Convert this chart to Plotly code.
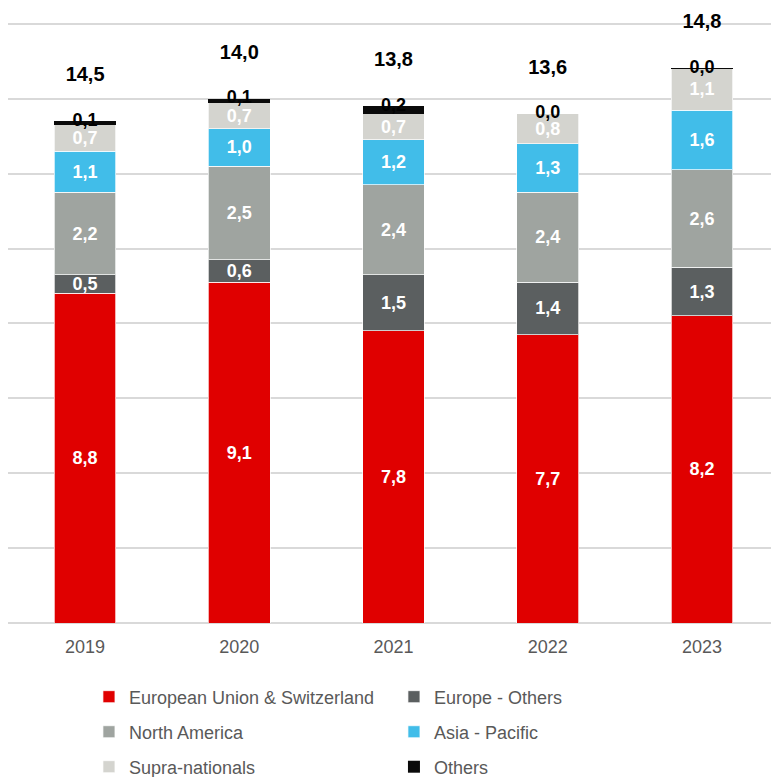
import plotly.graph_objects as go

years = ["2019", "2020", "2021", "2022", "2023"]
eu_ch = [8.8, 9.1, 7.8, 7.7, 8.2]
europe_others = [0.5, 0.6, 1.5, 1.4, 1.3]
north_america = [2.2, 2.5, 2.4, 2.4, 2.6]
asia_pacific = [1.1, 1.0, 1.2, 1.3, 1.6]
supra = [0.7, 0.7, 0.7, 0.8, 1.1]
others = [0.1, 0.1, 0.2, 0.0, 0.02]
totals = [14.5, 14.0, 13.8, 13.6, 14.8]

series = [
    ("European Union & Switzerland", eu_ch, "#e00000", "white", "legend"),
    ("Europe - Others", europe_others, "#5b5f60", "white", "legend"),
    ("North America", north_america, "#9fa4a0", "white", "legend2"),
    ("Asia - Pacific", asia_pacific, "#41bde9", "white", "legend2"),
    ("Supra-nationals", supra, "#d4d4cf", "white", "legend3"),
    ("Others", others, "#0a0a0a", "black", "legend3"),
]


def fmt(v):
    return "<b>" + f"{v:.1f}".replace(".", ",") + "</b>"


FONT = "Liberation Sans, Arial, sans-serif"
TOTAL_OFFSET = 0.93  # gap (in axis units) between stack top and total label anchor

fig = go.Figure()
for name, vals, color, tcolor, lg in series:
    is_others = name == "Others"
    kw = {}
    if not is_others:
        kw = dict(text=[fmt(v) for v in vals], textposition="inside",
                  insidetextanchor="middle", textangle=0, constraintext="none",
                  textfont=dict(family=FONT, size=18, color=tcolor))
    fig.add_trace(go.Bar(
        x=years, y=vals, name=name, legend=lg,
        marker=dict(color=color, line=dict(color="rgba(255,255,255,0.7)", width=0 if is_others else 1)),
        width=0.4,
        hoverinfo="skip",
        **kw,
    ))

stack_tops = [sum(v) for v in zip(eu_ch, europe_others, north_america, asia_pacific, supra, others)]

fig.add_trace(go.Scatter(
    x=years, y=stack_tops, mode="text", text=[fmt(o) for o in others],
    textposition="middle center", showlegend=False, hoverinfo="skip", cliponaxis=False,
    textfont=dict(family=FONT, size=18, color="black"),
))
fig.add_trace(go.Scatter(
    x=years, y=[t + TOTAL_OFFSET for t in stack_tops], mode="text", text=[fmt(t) for t in totals],
    textposition="top center", showlegend=False, hoverinfo="skip", cliponaxis=False,
    textfont=dict(family=FONT, size=20, color="black"),
))

leg_common = dict(orientation="h", x=0.105, xanchor="left", yanchor="middle",
                  entrywidth=260, traceorder="normal", bgcolor="rgba(0,0,0,0)",
                  font=dict(family=FONT, size=18, color="#595959"))

fig.update_layout(
    width=771, height=769,
    margin=dict(l=0, r=0, t=14, b=154, autoexpand=False),
    barmode="stack",
    plot_bgcolor="white", paper_bgcolor="white",
    font=dict(family=FONT, size=18, color="#595959"),
    showlegend=True,
    legend=dict(y=-0.1231, **leg_common),
    legend2=dict(y=-0.1814, **leg_common),
    legend3=dict(y=-0.2396, **leg_common),
    xaxis=dict(type="category", categoryorder="array", categoryarray=years,
               range=[-0.5, 4.5], autorange=False,
               showgrid=False, showline=False, ticks="", ticklabelstandoff=11,
               tickfont=dict(family=FONT, size=18, color="#595959")),
    yaxis=dict(range=[0, 16.05], autorange=False, dtick=2, showgrid=True, gridcolor="#d9d9d9", gridwidth=2,
               zeroline=True, zerolinecolor="#d9d9d9", zerolinewidth=2,
               showticklabels=False, ticks=""),
)

fig.write_html("out.html")
